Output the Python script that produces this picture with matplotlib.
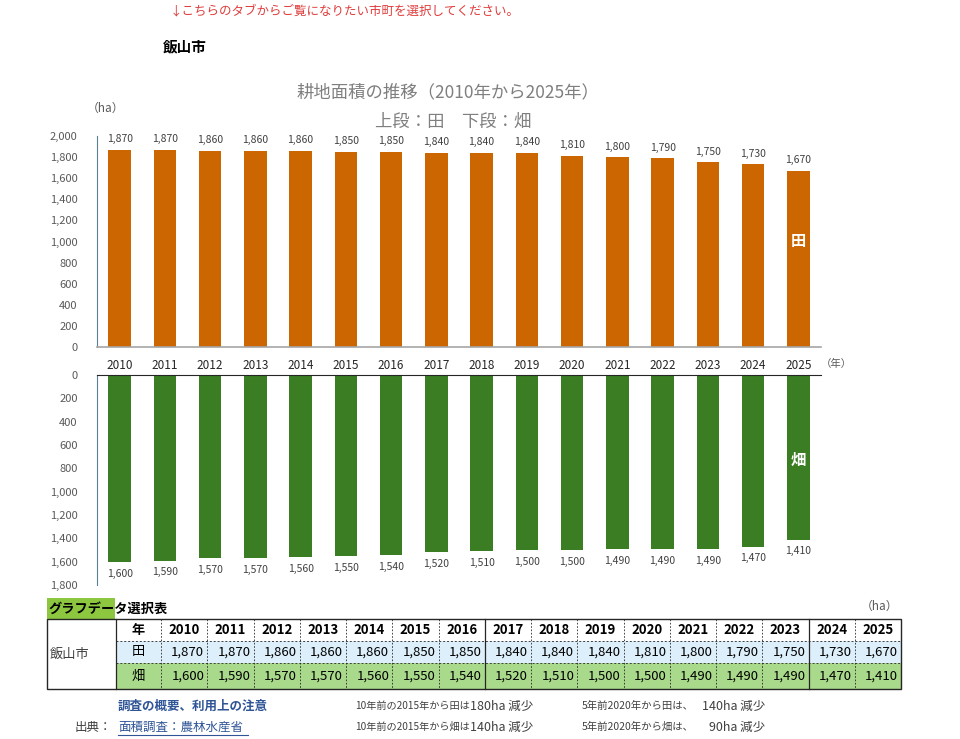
import numpy as np
import matplotlib
matplotlib.use('Agg')
import matplotlib.pyplot as plt
from matplotlib.patches import Rectangle

plt.rcParams['font.family'] = ['Noto Sans CJK JP', 'DejaVu Sans']

# data
years = [2010, 2011, 2012, 2013, 2014, 2015, 2016, 2017,
         2018, 2019, 2020, 2021, 2022, 2023, 2024, 2025]
ta = [1870, 1870, 1860, 1860, 1860, 1850, 1850, 1840,
      1840, 1840, 1810, 1800, 1790, 1750, 1730, 1670]
hata = [1600, 1590, 1570, 1570, 1560, 1550, 1540, 1520,
        1510, 1500, 1500, 1490, 1490, 1490, 1470, 1410]
city = '飯山市'

W, H = 960, 739
ORANGE = '#CC6600'
GREEN = '#3A7D22'
GRAY = '#595959'

fig = plt.figure(figsize=(9.6, 7.39), dpi=100)

# background axes in pixel coordinates for the sheet texts and table
bg = fig.add_axes([0, 0, 1, 1])
bg.set_xlim(0, W)
bg.set_ylim(H, 0)
bg.axis('off')

def px_axes(x0, y0, x1, y1):
    return fig.add_axes([x0 / W, 1 - y1 / H, (x1 - x0) / W, (y1 - y0) / H])

x = np.arange(len(years))

########## upper chart : 田 ##########
ax1 = px_axes(97, 136, 821, 347)
ax1.bar(x, ta, width=0.5, color=ORANGE)
ax1.set_xlim(-0.5, len(years) - 0.5)
ax1.set_ylim(0, 2000)
ax1.set_yticks(range(0, 2001, 200))
ax1.set_yticklabels([f'{v:,}' for v in range(0, 2001, 200)])
ax1.set_xticks(x)
ax1.set_xticklabels([str(y) for y in years])
ax1.tick_params(axis='y', length=0, labelsize=8, labelcolor=GRAY, pad=14)
ax1.tick_params(axis='x', length=0, labelsize=8.5, labelcolor='#262626', pad=9)
for s in ['top', 'right']:
    ax1.spines[s].set_visible(False)
ax1.spines['left'].set_color('#5B7F95')
ax1.spines['bottom'].set_color('#A6A6A6')
ax1.spines['bottom'].set_linewidth(1.2)
for xi, v in zip(x, ta):
    ax1.annotate(f'{v:,}', (xi, v), xytext=(0, 4), textcoords='offset points',
                 ha='center', va='bottom', fontsize=7.5, color='#404040')
ax1.text(x[-1], 1000, '田', ha='center', va='center', color='white',
         fontsize=11, fontweight='bold')
ax1.text(len(years) - 0.5, -160, '（年）', ha='left', va='center',
         fontsize=7.5, color=GRAY, clip_on=False)

########## lower chart : 畑 ##########
ax2 = px_axes(97, 375, 821, 585)
ax2.bar(x, hata, width=0.5, color=GREEN)
ax2.set_xlim(-0.5, len(years) - 0.5)
ax2.set_ylim(1800, 0)
ax2.set_yticks(range(0, 1801, 200))
ax2.set_yticklabels([f'{v:,}' for v in range(0, 1801, 200)])
ax2.set_xticks([])
ax2.tick_params(axis='y', length=0, labelsize=8, labelcolor=GRAY, pad=14)
for s in ['bottom', 'right']:
    ax2.spines[s].set_visible(False)
ax2.spines['left'].set_color('#5B7F95')
ax2.spines['top'].set_color('#262626')
for xi, v in zip(x, hata):
    ax2.annotate(f'{v:,}', (xi, v), xytext=(0, -5), textcoords='offset points',
                 ha='center', va='top', fontsize=7.5, color='#404040')
ax2.text(x[-1], 730, '畑', ha='center', va='center', color='white',
         fontsize=11, fontweight='bold')

########## titles ##########
bg.text(170, 11, '↓こちらのタブからご覧になりたい市町を選択してください。',
        color='#E03C3C', fontsize=9, va='center')
bg.text(163, 46, city, fontsize=10.5, fontweight='bold', va='center')
bg.text(448, 92, '耕地面積の推移（2010年から2025年）', fontsize=12.5,
        color='#7F7F7F', ha='center', va='center')
bg.text(453, 122, '上段：田　下段：畑', fontsize=12.5,
        color='#7F7F7F', ha='center', va='center')
bg.text(87, 108, '（ha）', fontsize=8.5, color=GRAY, va='center')

########## table ##########
bg.add_patch(Rectangle((47, 598), 68, 22, color='#8DC63F', lw=0))
bg.text(48, 609, 'グラフデータ選択表', fontsize=9.5, fontweight='bold', va='center')
bg.text(898, 606, '（ha）', fontsize=8.5, color=GRAY, ha='right', va='center')

t_left, t_name, t_first, t_right = 47, 116, 161, 901
rows = [619, 641, 663, 689]
cw = (t_right - t_first) / len(years)

bg.add_patch(Rectangle((t_name, rows[1]), t_right - t_name, rows[2] - rows[1],
                       color='#DDEFFA', lw=0))
bg.add_patch(Rectangle((t_name, rows[2]), t_right - t_name, rows[3] - rows[2],
                       color='#A9D98A', lw=0))
# dashed inner lines
for ry in rows[1:3]:
    bg.plot([t_name, t_right], [ry, ry], color='#404040', lw=0.7, ls=(0, (2, 2)))
for i in range(len(years)):
    cx = t_first + i * cw
    solid = i in (7, 14)
    bg.plot([cx, cx], [rows[0], rows[3]], color='#262626',
            lw=0.9 if solid else 0.6, ls='-' if solid else (0, (2, 2)))
bg.plot([t_name, t_name], [rows[0], rows[3]], color='#262626', lw=0.9)
bg.add_patch(Rectangle((t_left, rows[0]), t_right - t_left, rows[3] - rows[0],
                       fill=False, ec='#262626', lw=1))

bg.text((t_name + t_first) / 2, (rows[0] + rows[1]) / 2, '年', ha='center',
        va='center', fontsize=9.5, fontweight='bold')
bg.text((t_name + t_first) / 2, (rows[1] + rows[2]) / 2, '田', ha='center',
        va='center', fontsize=9.5)
bg.text((t_name + t_first) / 2, (rows[2] + rows[3]) / 2, '畑', ha='center',
        va='center', fontsize=9.5)
bg.text(t_left + 3, (rows[1] + rows[2]) / 2 + 2, city, va='center', fontsize=9.5,
        color='#404040')
for i, y in enumerate(years):
    cx = t_first + i * cw
    bg.text(cx + cw / 2, (rows[0] + rows[1]) / 2, str(y), ha='center', va='center',
            fontsize=9.5, fontweight='bold')
    bg.text(cx + cw - 3, (rows[1] + rows[2]) / 2, f'{ta[i]:,}', ha='right',
            va='center', fontsize=9.5)
    bg.text(cx + cw - 3, (rows[2] + rows[3]) / 2, f'{hata[i]:,}', ha='right',
            va='center', fontsize=9.5)

########## notes ##########
i15, i20 = years.index(2015), years.index(2020)
bg.text(118, 706, '調査の概要、利用上の注意', fontsize=9, fontweight='bold',
        color='#2F5597', va='center')
bg.text(75, 727, '出典：', fontsize=9, color='#404040', va='center')
bg.text(118, 727, '面積調査：農林水産省', fontsize=9, color='#2F5597', va='center')
bg.plot([118, 248], [735, 735], color='#2F5597', lw=0.8)

notes = [('田', ta), ('畑', hata)]
for k, (name, vals) in enumerate(notes):
    yy = 706 + k * 21
    bg.text(355, yy, f'10年前の2015年から{name}は', fontsize=7.3, color='#404040',
            va='center')
    bg.text(470, yy, f'{vals[i15] - vals[-1]}ha 減少', fontsize=9, color='#404040',
            va='center')
    bg.text(582, yy, f'5年前2020年から{name}は、', fontsize=7.5, color='#404040',
            va='center')
    bg.text(765, yy, f'{vals[i20] - vals[-1]}ha 減少', fontsize=9, color='#404040',
            va='center', ha='right')

fig.savefig('out.png', dpi=100)
